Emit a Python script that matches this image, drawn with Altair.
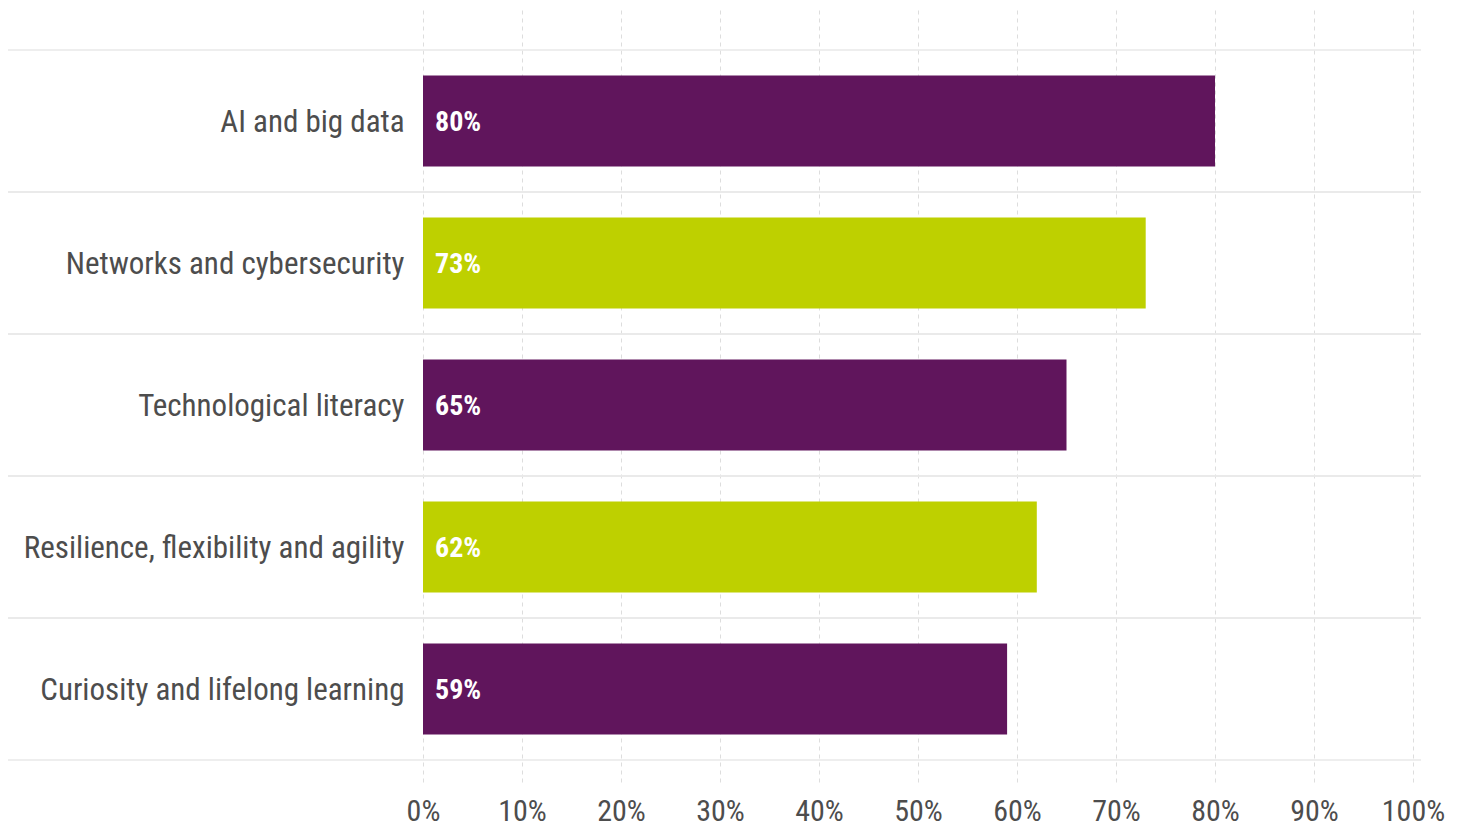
import altair as alt
import pandas as pd

categories = [
    "AI and big data",
    "Networks and cybersecurity",
    "Technological literacy",
    "Resilience, flexibility and agility",
    "Curiosity and lifelong learning",
]
values = [80, 73, 65, 62, 59]
groups = ["a", "b", "a", "b", "a"]
tick_values = [0, 10, 20, 30, 40, 50, 60, 70, 80, 90, 100]

df = pd.DataFrame({"category": categories, "value": values, "group": groups})
df["label"] = df["value"].astype(str) + "%"

FONT = "Roboto Condensed, Liberation Sans Narrow, DejaVu Sans Condensed, sans-serif"

y_scale = alt.Scale(paddingInner=0, paddingOuter=0.2183, align=0.645)
y_enc = alt.Y(
    "category:N",
    sort=categories,
    scale=y_scale,
    title=None,
    axis=alt.Axis(
        labelFontSize=31,
        labelColor="#4d4d4d",
        labelFont=FONT,
        labelPadding=19,
        labelLimit=600,
        labelOffset=2,
        ticks=False,
        domain=False,
        grid=False,
    ),
)
x_enc = alt.X(
    "value:Q",
    scale=alt.Scale(domain=[0, 100], nice=False),
    title=None,
    axis=alt.Axis(
        values=tick_values,
        labelExpr="datum.value + '%'",
        labelFontSize=30,
        labelColor="#4d4d4d",
        labelFont=FONT,
        labelPadding=14,
        labelFlush=False,
        labelOverlap=False,
        ticks=False,
        domain=False,
        grid=True,
        gridColor="#dddddd",
        gridDash=[4, 4],
        gridWidth=1,
    ),
)

base = alt.Chart(df)

rules_top = base.mark_rule(color="#e8e8e8", strokeWidth=1.5).encode(
    y=alt.Y("category:N", sort=categories, scale=y_scale, bandPosition=0),
    x=alt.value(-418),
    x2=alt.value(998),
)
rules_bottom = base.mark_rule(color="#e8e8e8", strokeWidth=1.5).encode(
    y=alt.Y("category:N", sort=categories, scale=y_scale, bandPosition=1),
    x=alt.value(-418),
    x2=alt.value(998),
)

bars = base.mark_bar(height=alt.RelativeBandSize(0.64)).encode(
    y=y_enc,
    x=x_enc,
    color=alt.Color(
        "group:N",
        scale=alt.Scale(domain=["a", "b"], range=["#60155c", "#bed000"]),
        legend=None,
    ),
)

labels = base.mark_text(
    align="left",
    baseline="middle",
    dx=12,
    dy=2,
    fontSize=28,
    fontWeight="bold",
    font=FONT,
    color="white",
).encode(
    y=alt.Y("category:N", sort=categories, scale=y_scale),
    x=alt.datum(0),
    text="label:N",
)

chart = (
    alt.layer(bars, rules_top, rules_bottom, labels, view=alt.ViewBackground(strokeWidth=0, strokeOpacity=0))
    .properties(
        width=990,
        height=772,
        autosize=alt.AutoSizeParams(type="none"),
        padding={"left": 415, "top": 2, "right": 39, "bottom": 44},
    )
    .configure_view(strokeWidth=0, strokeOpacity=0)
    .configure(background="white")
)

chart.save("out.html", embed_options={"renderer": "svg", "actions": False})
